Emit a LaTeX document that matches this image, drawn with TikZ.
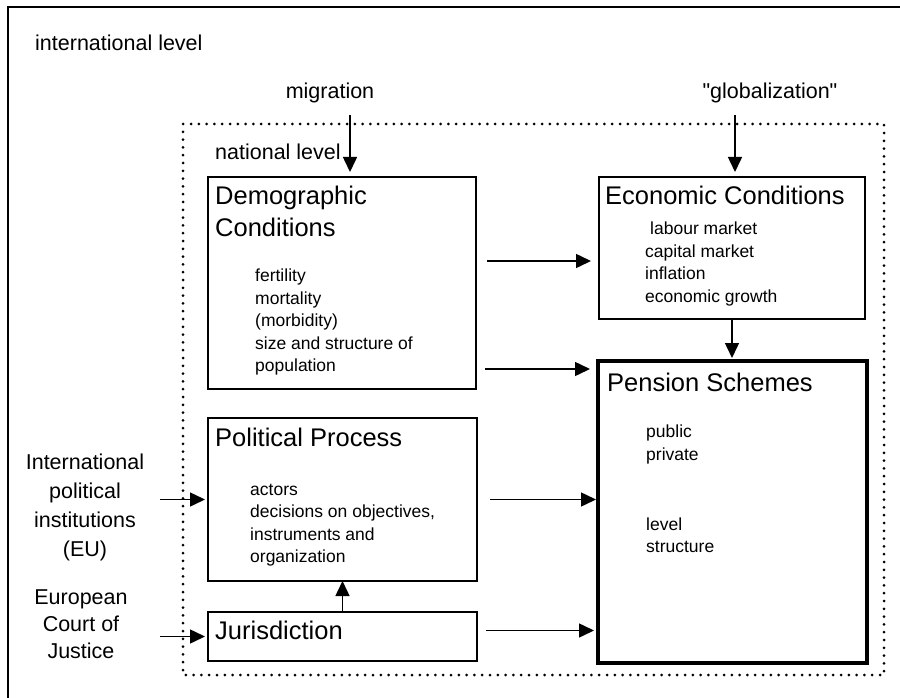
\documentclass[tikz,border=0pt]{standalone}
\usepackage{fontspec}
\setmainfont{Liberation Sans}[Ligatures=TeXOff]
\usetikzlibrary{arrows.meta,calc,positioning}

\tikzset{
  box/.style={draw, line width=1.3pt, inner sep=0pt, outer sep=0pt, anchor=north west},
  heading/.style={anchor=west, align=left, inner sep=0pt, font=\fontsize{25.5}{32}\selectfont},
  items/.style={anchor=west, align=left, inner sep=0pt, font=\fontsize{17.5}{22.5}\selectfont},
  outside/.style={align=center, inner sep=0pt, font=\fontsize{21.5}{29}\selectfont},
  arr/.style={-{Triangle[length=15pt,width=14pt]}, line width=1.5pt},
}

\begin{document}
\begin{tikzpicture}[x=1pt,y=-1pt]
\useasboundingbox (0,0) rectangle (900,698);
% levels
\draw[line width=1.5pt] (8,698) -- (8,7) -- (900,7);
\draw[line width=3pt, line cap=round, dash pattern=on 0pt off 7.8pt] (183,124) rectangle (884,675);
\node[outside, anchor=west] (intl) at (35,43) {international level};
\node[outside, anchor=west] (natl) at (215,152) {national level};
\node[outside] (mig) at (330,93) {migration};
\node[outside] (glob) at (770,93) {"globalization"};
\node[outside] (eu) at (85,507) {International\\political\\institutions\\(EU)};
\node[outside, font=\fontsize{21.5}{27}\selectfont] (court) at (81,624) {European\\Court of\\Justice};

% boxes
\node[box, minimum width=268pt, minimum height=212pt] (demo) at (208,177) {};
\node[box, minimum width=266pt, minimum height=142pt] (econ) at (599,177) {};
\node[box, line width=4pt, minimum width=269pt, minimum height=302pt] (pension) at (598,361) {};
\node[box, minimum width=269pt, minimum height=163pt] (polit) at (208,418) {};
\node[box, minimum width=269pt, minimum height=49pt] (juris) at (208,612) {};

\node[heading] (demot) at (215,211) {Demographic\\Conditions};
\node[items] (demoi) at (255,322) {fertility\\mortality\\(morbidity)\\size and structure of\\population};
\node[heading] (econt) at (605,195) {Economic Conditions};
\node[items] (econi) at (645,264) {\hspace{5pt}labour market\\capital market\\inflation\\economic growth};
\node[heading] (pent) at (607,382) {Pension Schemes};
\node[items] (peni) at (646,489) {public\\private\\[47.5pt]level\\structure};
\node[heading] (politt) at (215,437) {Political Process};
\node[items] (politi) at (250,525) {actors\\decisions on objectives,\\instruments and\\organization};
\node[heading] (jurist) at (215,630) {Jurisdiction};

% arrows
\coordinate (migtop) at (350,115);
\coordinate (globtop) at (735,115);
\coordinate (d1) at ($(demo.east)+(0,-22)$);
\coordinate (d2) at ($(demo.east)+(0,86)$);
\coordinate (j1) at ($(juris.east)+(0,-6)$);
\draw[arr, shorten >=5pt] (migtop) -- (migtop |- demo.north);
\draw[arr, shorten >=5pt] (globtop) -- (globtop |- econ.north);
\draw[arr, shorten <=11pt, shorten >=8pt] (d1) -- (d1 -| econ.west);
\draw[arr, shorten <=9pt, shorten >=8pt] (d2) -- (d2 -| pension.west);
\draw[arr, shorten >=3pt] (econ.south) -- (econ.south |- pension.north);
\draw[arr, shorten <=13pt, shorten >=2pt] (polit.east) -- (polit.east -| pension.west);
\draw[arr, shorten <=9pt, shorten >=4pt] (j1) -- (j1 -| pension.west);
\draw[arr] (juris.north) -- (polit.south);
\draw[arr, shorten <=16pt, shorten >=3pt] (eu.east |- polit.west) -- (polit.west);
\draw[arr, shorten <=32pt, shorten >=3pt] (court.east |- juris.west) -- (juris.west);
\end{tikzpicture}
\end{document}
